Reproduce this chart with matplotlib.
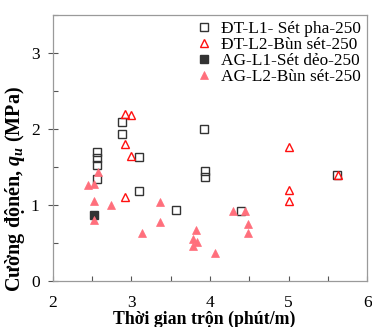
import numpy as np
import matplotlib.pyplot as plt
from matplotlib.ticker import MultipleLocator

plt.rcParams['font.family'] = ['Liberation Serif', 'DejaVu Serif']
plt.rcParams['mathtext.fontset'] = 'custom'
plt.rcParams['mathtext.it'] = 'Liberation Serif:italic:bold'
plt.rcParams['mathtext.rm'] = 'Liberation Serif:bold'

# ĐT-L1 - Sét pha-250
dt1_t = [2.56, 2.56, 2.56, 2.56, 2.88, 2.88, 3.10, 3.10, 3.57, 3.92, 3.93, 3.93, 4.40, 5.62]
dt1_q = [1.70, 1.62, 1.53, 1.35, 2.09, 1.93, 1.63, 1.18, 0.93, 2.00, 1.45, 1.37, 0.92, 1.40]

# ĐT-L2 - Bùn sét-250
dt2_t = [2.92, 3.00, 2.92, 2.99, 2.92, 5.00, 5.00, 5.00, 5.63]
dt2_q = [2.20, 2.18, 1.80, 1.65, 1.11, 1.77, 1.20, 1.06, 1.40]

# AG-L1 - Sét dẻo-250
ag1_t = [2.52]
ag1_q = [0.87]

# AG-L2 - Bùn sét-250
ag2_t = [2.57, 2.45, 2.53, 2.53, 2.74, 2.52, 3.14, 3.36, 3.36, 3.82, 3.79, 3.83, 3.79,
         4.06, 4.29, 4.45, 4.48, 4.48]
ag2_q = [1.44, 1.27, 1.28, 1.06, 1.00, 0.81, 0.63, 1.04, 0.78, 0.68, 0.56, 0.51, 0.46,
         0.37, 0.92, 0.92, 0.75, 0.64]

fig = plt.figure(figsize=(3.72, 3.27), dpi=100)
ax = fig.add_axes([0.1417, 0.140, 0.8457, 0.814])

pink = '#ff6f7c'
ax.plot(dt1_t, dt1_q, 's', ms=5.2, mfc='none', mec='#333333', mew=1.0,
        label='ĐT-L1- Sét pha-250')
ax.plot(dt2_t, dt2_q, '^', ms=5.6, mfc='none', mec='#ff1010', mew=1.0,
        label='ĐT-L2-Bùn sét-250')
ax.plot(ag1_t, ag1_q, 's', ms=5.2, mfc='#333333', mec='#333333', mew=1.0,
        label='AG-L1-Sét dẻo-250')
ax.plot(ag2_t, ag2_q, '^', ms=5.6, mfc=pink, mec=pink, mew=0.5,
        label='AG-L2-Bùn sét-250')

ax.set_xlim(2, 6)
ax.set_ylim(0, 3.5)
ax.xaxis.set_major_locator(MultipleLocator(1))
ax.xaxis.set_minor_locator(MultipleLocator(0.5))
ax.yaxis.set_major_locator(MultipleLocator(1))
ax.yaxis.set_minor_locator(MultipleLocator(0.5))

for s in ax.spines.values():
    s.set_color('#9a9a9a')
    s.set_linewidth(0.9)

ax.tick_params(axis='x', which='both', direction='in', length=3.5, width=0.8,
               color='#555555', labelsize=12.5, pad=10)
ax.tick_params(axis='y', which='major', direction='inout', length=7, width=0.8,
               color='#555555', labelsize=12.5, pad=6)
ax.tick_params(axis='y', which='minor', direction='in', length=3.5, width=0.8,
               color='#555555')

ax.set_xlabel('Thời gian trộn (phút/m)', fontsize=12.8, fontweight='bold')
ax.set_ylabel('Cường độnén, $q_u$ (MPa)', fontsize=14.5, fontweight='bold')
ax.xaxis.set_label_coords(0.483, -0.112)
ax.xaxis.label.set_va('top')
ax.yaxis.set_label_coords(-0.082, 0.347)

ax.legend(loc='upper right', frameon=False, fontsize=12.4, handlelength=0.9,
          handletextpad=0.55, labelspacing=0.0, borderaxespad=0.15,
          borderpad=0.2)

fig.savefig('out.png', dpi=100)
